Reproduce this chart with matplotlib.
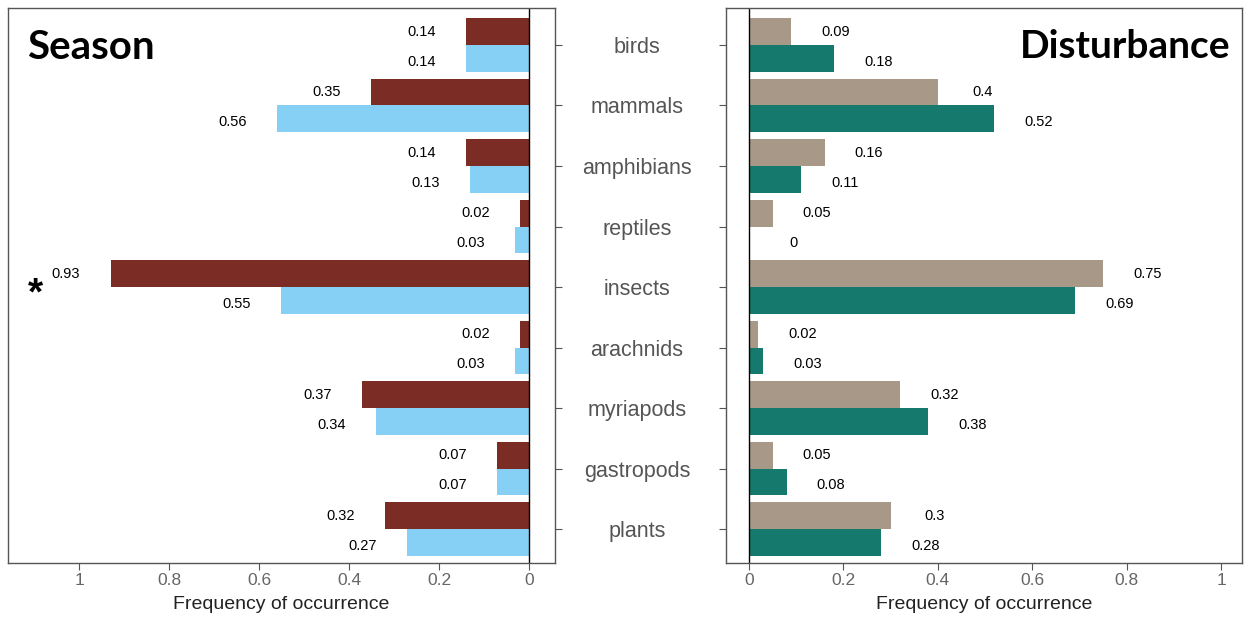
import matplotlib.pyplot as plt
from matplotlib.transforms import blended_transform_factory
import numpy as np

# Data
groups = ['birds', 'mammals', 'amphibians', 'reptiles', 'insects',
          'arachnids', 'myriapods', 'gastropods', 'plants']
season_a = [0.14, 0.35, 0.14, 0.02, 0.93, 0.02, 0.37, 0.07, 0.32]
season_b = [0.14, 0.56, 0.13, 0.03, 0.55, 0.03, 0.34, 0.07, 0.27]
disturb_a = [0.09, 0.40, 0.16, 0.05, 0.75, 0.02, 0.32, 0.05, 0.30]
disturb_b = [0.18, 0.52, 0.11, 0.00, 0.69, 0.03, 0.38, 0.08, 0.28]
xticks = [0, 0.2, 0.4, 0.6, 0.8, 1]
xtick_labels = ['0', '0.2', '0.4', '0.6', '0.8', '1']

plt.rcParams['font.family'] = ['Liberation Sans', 'DejaVu Sans']

fig = plt.figure(figsize=(12.45, 6.18), dpi=100)
ax1 = fig.add_axes([0.0064, 0.089, 0.4394, 0.898])
ax2 = fig.add_axes([0.583, 0.089, 0.4145, 0.898])

y = np.arange(len(groups))
off = 0.22
h = 0.44


def style(ax):
    for s in ax.spines.values():
        s.set_color('#555555')
        s.set_linewidth(1)
    ax.tick_params(axis='both', direction='out', length=5, color='#555555',
                   labelsize=12.5, labelcolor='#666666')
    ax.tick_params(axis='x', pad=2)
    ax.set_xticks(xticks)
    ax.set_xticklabels(xtick_labels)
    ax.set_yticks(y)
    ax.set_yticklabels([])
    ax.set_xlabel('Frequency of occurrence', fontsize=14, color='#222222', labelpad=6)
    ax.axvline(0, color='black', lw=1)


# Season panel
ax1.barh(y - off, season_a, height=h, color='#7A2C25')
ax1.barh(y + off, season_b, height=h, color='#86CFF5')
for i in range(len(groups)):
    ax1.annotate(f'{season_a[i]:g}', (season_a[i], y[i] - off), xytext=(-32, 0),
                 textcoords='offset points', ha='center', va='center', fontsize=10.5)
    ax1.annotate(f'{season_b[i]:g}', (season_b[i], y[i] + off), xytext=(-32, -2.5),
                 textcoords='offset points', ha='center', va='center', fontsize=10.5)
ax1.set_xlim(1.158, -0.058)
ax1.set_ylim(8.56, -0.61)
ax1.yaxis.tick_right()
style(ax1)
ax1.text(0.034, 0.962, 'Season', transform=ax1.transAxes, fontsize=29,
         fontweight='bold', family='Lato', va='top', ha='left')
ax1.text(1.097, 4.13, '*', fontsize=28, fontweight='bold', ha='center', va='center')

# Disturbance panel
ax2.barh(y - off, disturb_a, height=h, color='#A89888')
ax2.barh(y + off, disturb_b, height=h, color='#16796D')
for i in range(len(groups)):
    ax2.annotate(f'{disturb_a[i]:g}', (disturb_a[i], y[i] - off), xytext=(32, 0),
                 textcoords='offset points', ha='center', va='center', fontsize=10.5)
    ax2.annotate(f'{disturb_b[i]:g}', (disturb_b[i], y[i] + off), xytext=(32, -2.5),
                 textcoords='offset points', ha='center', va='center', fontsize=10.5)
ax2.set_xlim(-0.049, 1.044)
ax2.set_ylim(8.56, -0.61)
style(ax2)
ax2.text(0.977, 0.962, 'Disturbance', transform=ax2.transAxes, fontsize=28,
         fontweight='bold', family='Lato', va='top', ha='right')

# category names between the panels
tr = blended_transform_factory(fig.transFigure, ax1.transData)
for i, g in enumerate(groups):
    fig.text(637 / 1245, y[i], g, transform=tr, ha='center', va='center_baseline',
             fontsize=15.5, color='#555555')

plt.savefig('out.png', dpi=100)
